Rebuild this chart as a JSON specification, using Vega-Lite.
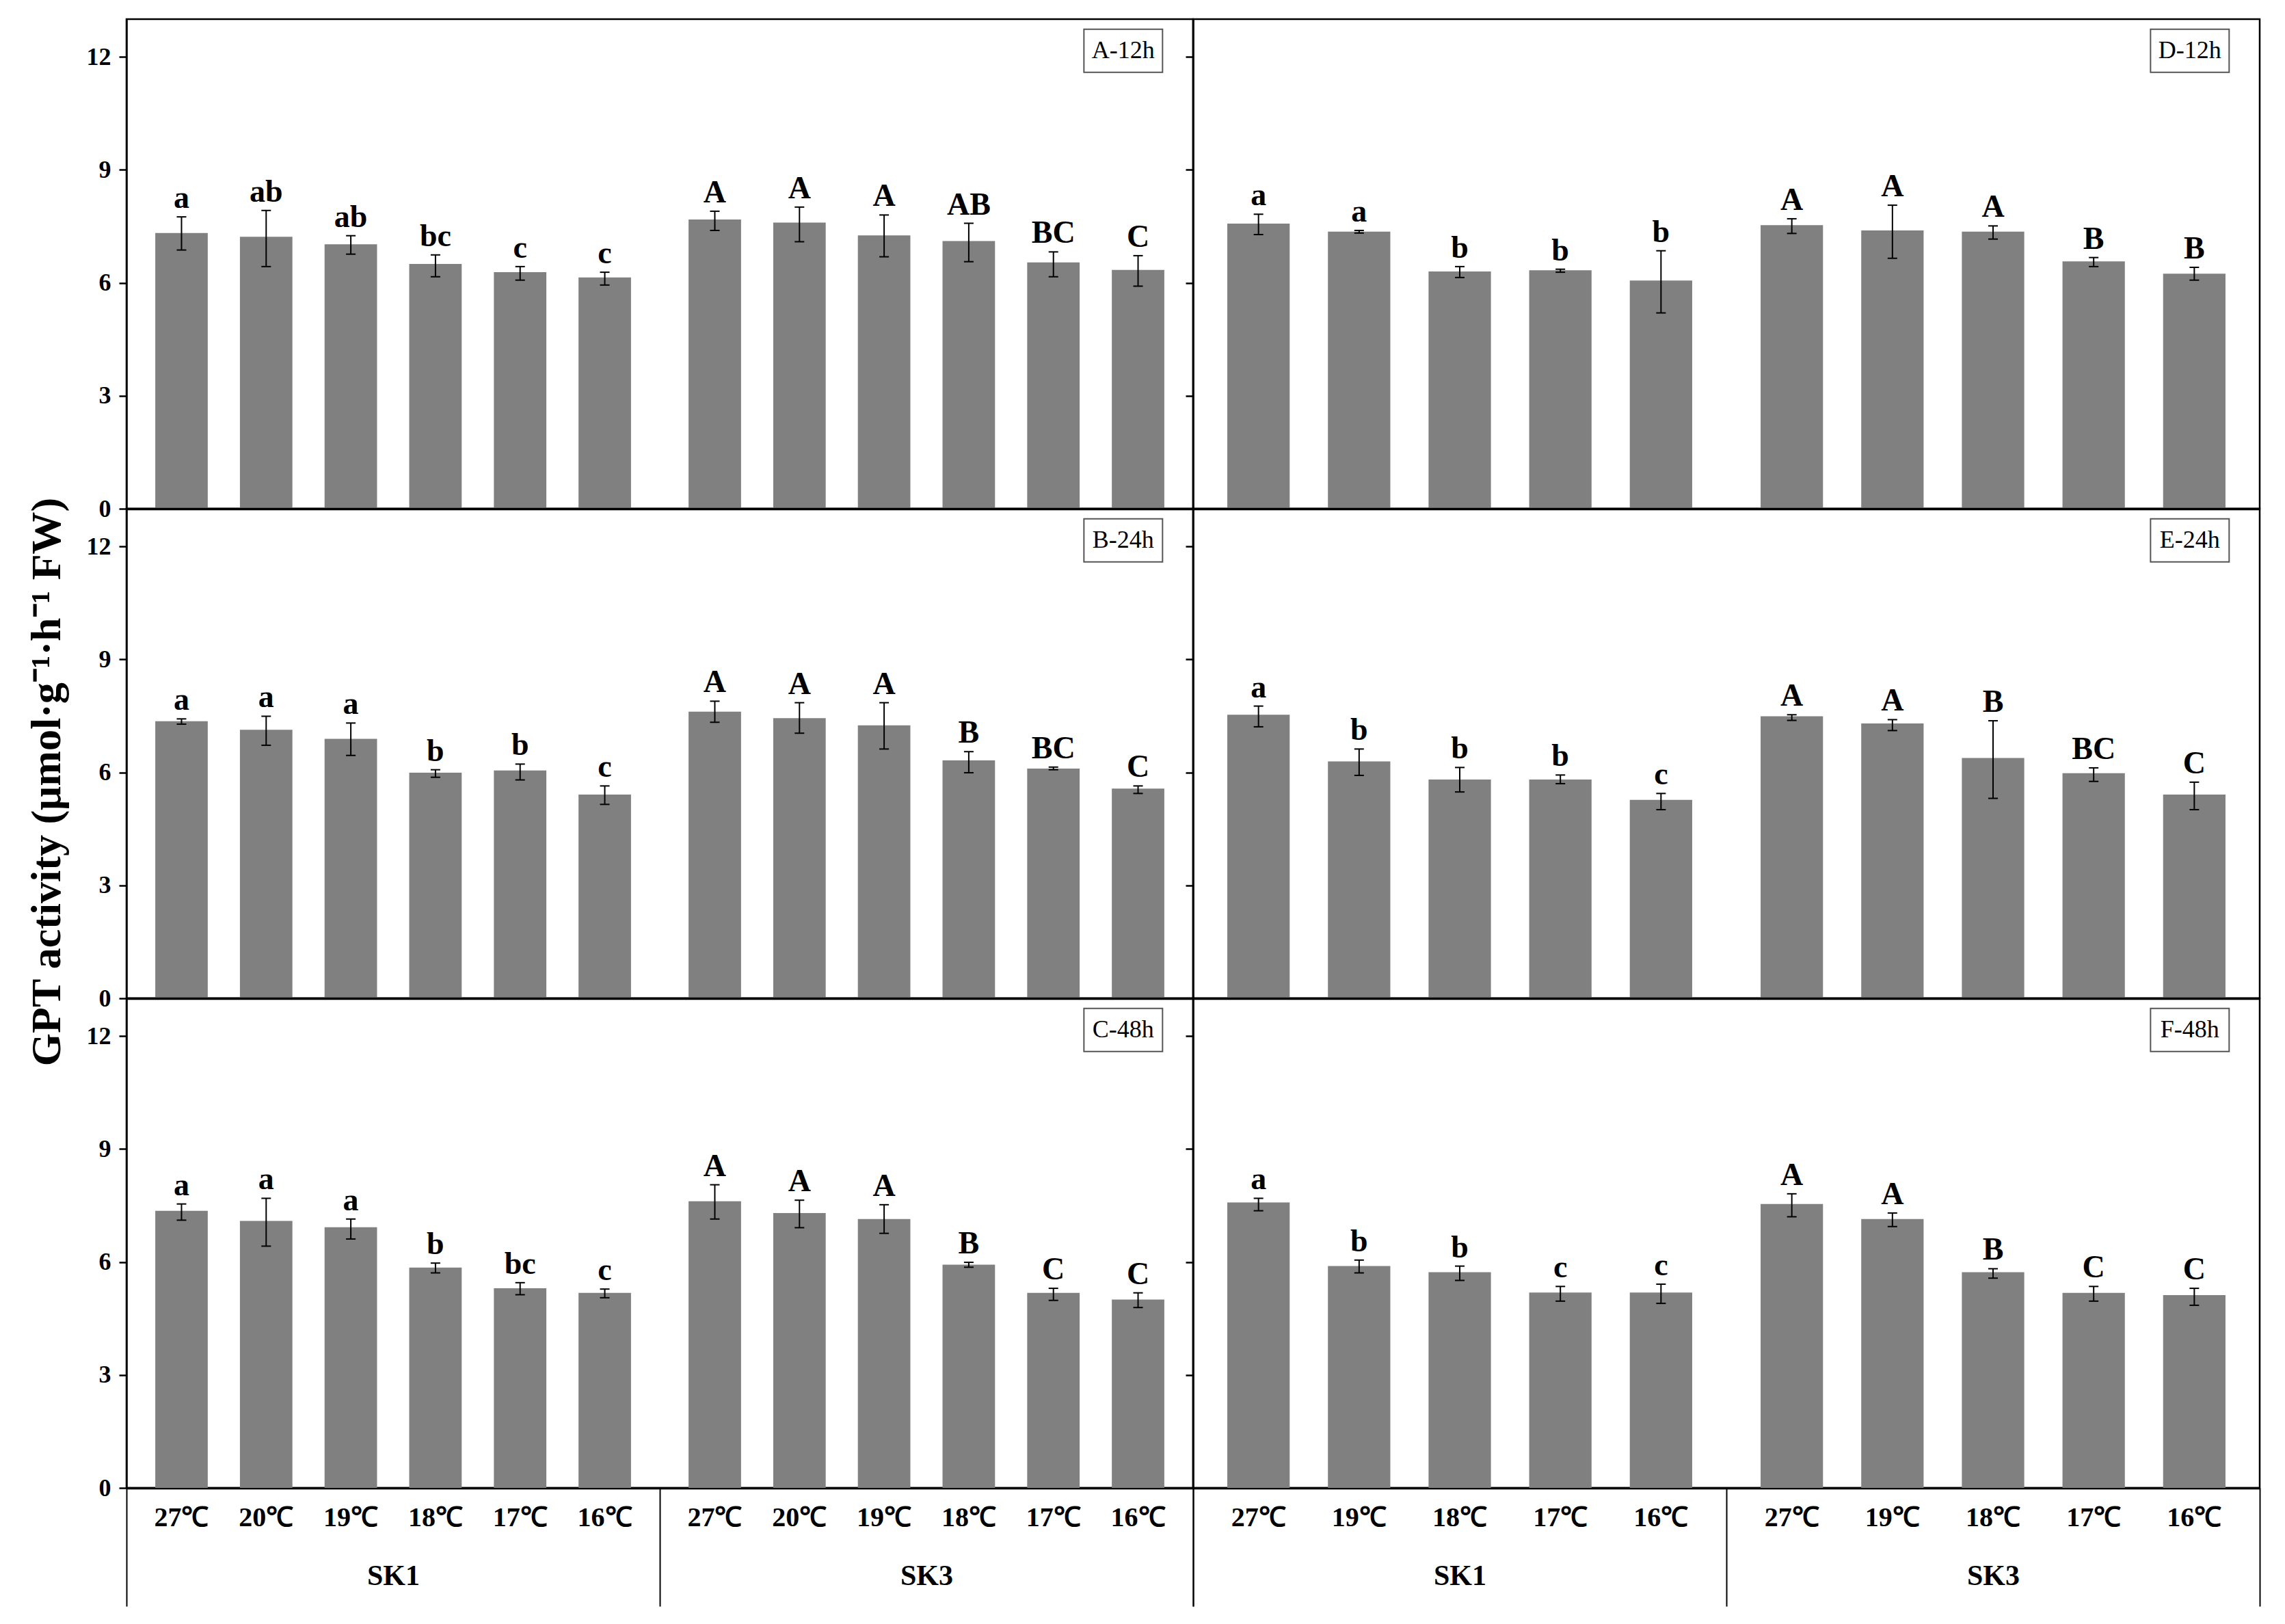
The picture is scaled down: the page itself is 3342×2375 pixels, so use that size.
{
  "$schema": "https://vega.github.io/schema/vega-lite/v6.json",
  "background": "white",
  "padding": {"left": 35, "top": 26, "right": 33, "bottom": 10},
  "config": {
    "font": "Liberation Serif",
    "view": {"stroke": "black", "strokeWidth": 2.5},
    "axis": {"grid": false, "domainColor": "black", "tickColor": "black", "labelColor": "black", "titleColor": "black", "labelFont": "Liberation Serif", "titleFont": "Liberation Serif"}
  },
  "datasets": {
    "gpt": [
      {"panel": "A", "group": "SK1", "temp": "27℃", "value": 7.32, "lo": 6.87, "hi": 7.75, "letter": "a"},
      {"panel": "A", "group": "SK1", "temp": "20℃", "value": 7.22, "lo": 6.43, "hi": 7.92, "letter": "ab"},
      {"panel": "A", "group": "SK1", "temp": "19℃", "value": 7.02, "lo": 6.76, "hi": 7.25, "letter": "ab"},
      {"panel": "A", "group": "SK1", "temp": "18℃", "value": 6.50, "lo": 6.16, "hi": 6.74, "letter": "bc"},
      {"panel": "A", "group": "SK1", "temp": "17℃", "value": 6.28, "lo": 6.07, "hi": 6.43, "letter": "c"},
      {"panel": "A", "group": "SK1", "temp": "16℃", "value": 6.14, "lo": 5.94, "hi": 6.28, "letter": "c"},
      {"panel": "A", "group": "SK3", "temp": "27℃", "value": 7.68, "lo": 7.39, "hi": 7.90, "letter": "A"},
      {"panel": "A", "group": "SK3", "temp": "20℃", "value": 7.60, "lo": 7.09, "hi": 8.01, "letter": "A"},
      {"panel": "A", "group": "SK3", "temp": "19℃", "value": 7.26, "lo": 6.69, "hi": 7.80, "letter": "A"},
      {"panel": "A", "group": "SK3", "temp": "18℃", "value": 7.11, "lo": 6.56, "hi": 7.58, "letter": "AB"},
      {"panel": "A", "group": "SK3", "temp": "17℃", "value": 6.54, "lo": 6.16, "hi": 6.82, "letter": "BC"},
      {"panel": "A", "group": "SK3", "temp": "16℃", "value": 6.34, "lo": 5.91, "hi": 6.72, "letter": "C"},
      {"panel": "D", "group": "SK1", "temp": "27℃", "value": 7.57, "lo": 7.28, "hi": 7.82, "letter": "a"},
      {"panel": "D", "group": "SK1", "temp": "19℃", "value": 7.36, "lo": 7.32, "hi": 7.39, "letter": "a"},
      {"panel": "D", "group": "SK1", "temp": "18℃", "value": 6.30, "lo": 6.14, "hi": 6.43, "letter": "b"},
      {"panel": "D", "group": "SK1", "temp": "17℃", "value": 6.33, "lo": 6.28, "hi": 6.36, "letter": "b"},
      {"panel": "D", "group": "SK1", "temp": "16℃", "value": 6.06, "lo": 5.20, "hi": 6.85, "letter": "b"},
      {"panel": "D", "group": "SK3", "temp": "27℃", "value": 7.53, "lo": 7.31, "hi": 7.70, "letter": "A"},
      {"panel": "D", "group": "SK3", "temp": "19℃", "value": 7.39, "lo": 6.65, "hi": 8.06, "letter": "A"},
      {"panel": "D", "group": "SK3", "temp": "18℃", "value": 7.36, "lo": 7.16, "hi": 7.51, "letter": "A"},
      {"panel": "D", "group": "SK3", "temp": "17℃", "value": 6.57, "lo": 6.43, "hi": 6.67, "letter": "B"},
      {"panel": "D", "group": "SK3", "temp": "16℃", "value": 6.24, "lo": 6.07, "hi": 6.41, "letter": "B"},
      {"panel": "B", "group": "SK1", "temp": "27℃", "value": 7.36, "lo": 7.28, "hi": 7.42, "letter": "a"},
      {"panel": "B", "group": "SK1", "temp": "20℃", "value": 7.13, "lo": 6.72, "hi": 7.49, "letter": "a"},
      {"panel": "B", "group": "SK1", "temp": "19℃", "value": 6.89, "lo": 6.45, "hi": 7.31, "letter": "a"},
      {"panel": "B", "group": "SK1", "temp": "18℃", "value": 5.99, "lo": 5.87, "hi": 6.07, "letter": "b"},
      {"panel": "B", "group": "SK1", "temp": "17℃", "value": 6.05, "lo": 5.80, "hi": 6.22, "letter": "b"},
      {"panel": "B", "group": "SK1", "temp": "16℃", "value": 5.41, "lo": 5.15, "hi": 5.64, "letter": "c"},
      {"panel": "B", "group": "SK3", "temp": "27℃", "value": 7.61, "lo": 7.33, "hi": 7.89, "letter": "A"},
      {"panel": "B", "group": "SK3", "temp": "20℃", "value": 7.44, "lo": 7.04, "hi": 7.85, "letter": "A"},
      {"panel": "B", "group": "SK3", "temp": "19℃", "value": 7.25, "lo": 6.62, "hi": 7.85, "letter": "A"},
      {"panel": "B", "group": "SK3", "temp": "18℃", "value": 6.32, "lo": 5.99, "hi": 6.55, "letter": "B"},
      {"panel": "B", "group": "SK3", "temp": "17℃", "value": 6.10, "lo": 6.07, "hi": 6.14, "letter": "BC"},
      {"panel": "B", "group": "SK3", "temp": "16℃", "value": 5.57, "lo": 5.44, "hi": 5.64, "letter": "C"},
      {"panel": "E", "group": "SK1", "temp": "27℃", "value": 7.53, "lo": 7.21, "hi": 7.76, "letter": "a"},
      {"panel": "E", "group": "SK1", "temp": "19℃", "value": 6.29, "lo": 5.92, "hi": 6.62, "letter": "b"},
      {"panel": "E", "group": "SK1", "temp": "18℃", "value": 5.81, "lo": 5.48, "hi": 6.13, "letter": "b"},
      {"panel": "E", "group": "SK1", "temp": "17℃", "value": 5.81, "lo": 5.70, "hi": 5.93, "letter": "b"},
      {"panel": "E", "group": "SK1", "temp": "16℃", "value": 5.27, "lo": 5.01, "hi": 5.44, "letter": "c"},
      {"panel": "E", "group": "SK3", "temp": "27℃", "value": 7.49, "lo": 7.38, "hi": 7.53, "letter": "A"},
      {"panel": "E", "group": "SK3", "temp": "19℃", "value": 7.30, "lo": 7.11, "hi": 7.40, "letter": "A"},
      {"panel": "E", "group": "SK3", "temp": "18℃", "value": 6.38, "lo": 5.31, "hi": 7.37, "letter": "B"},
      {"panel": "E", "group": "SK3", "temp": "17℃", "value": 5.98, "lo": 5.76, "hi": 6.12, "letter": "BC"},
      {"panel": "E", "group": "SK3", "temp": "16℃", "value": 5.41, "lo": 5.01, "hi": 5.74, "letter": "C"},
      {"panel": "C", "group": "SK1", "temp": "27℃", "value": 7.36, "lo": 7.11, "hi": 7.54, "letter": "a"},
      {"panel": "C", "group": "SK1", "temp": "20℃", "value": 7.09, "lo": 6.42, "hi": 7.69, "letter": "a"},
      {"panel": "C", "group": "SK1", "temp": "19℃", "value": 6.92, "lo": 6.61, "hi": 7.14, "letter": "a"},
      {"panel": "C", "group": "SK1", "temp": "18℃", "value": 5.85, "lo": 5.71, "hi": 5.97, "letter": "b"},
      {"panel": "C", "group": "SK1", "temp": "17℃", "value": 5.30, "lo": 5.13, "hi": 5.45, "letter": "bc"},
      {"panel": "C", "group": "SK1", "temp": "16℃", "value": 5.18, "lo": 5.05, "hi": 5.28, "letter": "c"},
      {"panel": "C", "group": "SK3", "temp": "27℃", "value": 7.61, "lo": 7.14, "hi": 8.05, "letter": "A"},
      {"panel": "C", "group": "SK3", "temp": "20℃", "value": 7.30, "lo": 6.91, "hi": 7.64, "letter": "A"},
      {"panel": "C", "group": "SK3", "temp": "19℃", "value": 7.14, "lo": 6.76, "hi": 7.52, "letter": "A"},
      {"panel": "C", "group": "SK3", "temp": "18℃", "value": 5.93, "lo": 5.86, "hi": 5.99, "letter": "B"},
      {"panel": "C", "group": "SK3", "temp": "17℃", "value": 5.18, "lo": 4.98, "hi": 5.30, "letter": "C"},
      {"panel": "C", "group": "SK3", "temp": "16℃", "value": 5.00, "lo": 4.79, "hi": 5.18, "letter": "C"},
      {"panel": "F", "group": "SK1", "temp": "27℃", "value": 7.58, "lo": 7.36, "hi": 7.69, "letter": "a"},
      {"panel": "F", "group": "SK1", "temp": "19℃", "value": 5.89, "lo": 5.71, "hi": 6.05, "letter": "b"},
      {"panel": "F", "group": "SK1", "temp": "18℃", "value": 5.73, "lo": 5.51, "hi": 5.89, "letter": "b"},
      {"panel": "F", "group": "SK1", "temp": "17℃", "value": 5.19, "lo": 4.96, "hi": 5.35, "letter": "c"},
      {"panel": "F", "group": "SK1", "temp": "16℃", "value": 5.19, "lo": 4.90, "hi": 5.41, "letter": "c"},
      {"panel": "F", "group": "SK3", "temp": "27℃", "value": 7.54, "lo": 7.20, "hi": 7.81, "letter": "A"},
      {"panel": "F", "group": "SK3", "temp": "19℃", "value": 7.14, "lo": 6.94, "hi": 7.30, "letter": "A"},
      {"panel": "F", "group": "SK3", "temp": "18℃", "value": 5.73, "lo": 5.57, "hi": 5.82, "letter": "B"},
      {"panel": "F", "group": "SK3", "temp": "17℃", "value": 5.18, "lo": 4.96, "hi": 5.35, "letter": "C"},
      {"panel": "F", "group": "SK3", "temp": "16℃", "value": 5.12, "lo": 4.85, "hi": 5.30, "letter": "C"}
    ]
  },
  "columns": 2,
  "spacing": 0,
  "bounds": "flush",
  "resolve": {"scale": {"x": "independent", "xOffset": "independent", "y": "independent"}},
  "concat": [
    {
      "width": 1560, "height": 716,
      "data": {"name": "gpt"},
      "transform": [{"filter": "datum.panel === 'A'"}],
      "encoding": {"x": {"field": "group", "type": "nominal", "scale": {"domain": ["SK1", "SK3"], "paddingInner": 0, "paddingOuter": 0}, "axis": {"title": null, "labels": false, "ticks": false, "domainWidth": 3.5}}},
      "layer": [
        {"mark": {"type": "bar", "color": "#808080"}, "encoding": {"xOffset": {"field": "temp", "type": "nominal", "scale": {"domain": ["27℃", "20℃", "19℃", "18℃", "17℃", "16℃"], "paddingInner": 0.38, "paddingOuter": 0.34}}, "y": {"field": "value", "type": "quantitative", "scale": {"domain": [0, 13], "nice": false}, "axis": {"title": null, "values": [0, 3, 6, 9, 12], "labelFontSize": 36, "labelFontWeight": "bold", "labelPadding": 12, "tickSize": 11, "tickWidth": 2.5, "domainWidth": 2.5}}}},
        {"mark": {"type": "rule", "color": "black", "strokeWidth": 2}, "encoding": {"xOffset": {"field": "temp", "type": "nominal"}, "y": {"field": "lo", "type": "quantitative"}, "y2": {"field": "hi"}}},
        {"mark": {"type": "tick", "color": "black", "thickness": 2, "size": 14, "opacity": 1}, "encoding": {"xOffset": {"field": "temp", "type": "nominal"}, "y": {"field": "hi", "type": "quantitative"}}},
        {"mark": {"type": "tick", "color": "black", "thickness": 2, "size": 14, "opacity": 1}, "encoding": {"xOffset": {"field": "temp", "type": "nominal"}, "y": {"field": "lo", "type": "quantitative"}}},
        {"mark": {"type": "text", "fontSize": 46, "fontWeight": "bold", "baseline": "alphabetic", "dy": -13, "color": "black"}, "encoding": {"xOffset": {"field": "temp", "type": "nominal"}, "y": {"field": "hi", "type": "quantitative"}, "text": {"field": "letter"}}},
        {"data": {"values": [{"label": "A-12h"}]}, "mark": {"type": "point", "shape": "M-1.825,-1H1.825V1H-1.825Z", "size": 3969, "filled": true, "fill": "white", "stroke": "#555555", "strokeWidth": 2, "opacity": 1}, "encoding": {"x": {"datum": "SK3", "bandPosition": 0.869}, "y": {"datum": 12.16}}},
        {"data": {"values": [{"label": "A-12h"}]}, "mark": {"type": "text", "fontSize": 36, "baseline": "middle", "color": "black"}, "encoding": {"x": {"datum": "SK3", "bandPosition": 0.869}, "y": {"datum": 12.16}, "text": {"field": "label"}}}
      ]
    },
    {
      "width": 1560, "height": 716,
      "data": {"name": "gpt"},
      "transform": [{"filter": "datum.panel === 'D'"}],
      "encoding": {"x": {"field": "group", "type": "nominal", "scale": {"domain": ["SK1", "SK3"], "paddingInner": 0, "paddingOuter": 0}, "axis": {"title": null, "labels": false, "ticks": false, "domainWidth": 3.5}}},
      "layer": [
        {"mark": {"type": "bar", "color": "#808080"}, "encoding": {"xOffset": {"field": "temp", "type": "nominal", "scale": {"domain": ["27℃", "19℃", "18℃", "17℃", "16℃"], "paddingInner": 0.38, "paddingOuter": 0.34}}, "y": {"field": "value", "type": "quantitative", "scale": {"domain": [0, 13], "nice": false}, "axis": {"title": null, "values": [0, 3, 6, 9, 12], "labels": false, "tickSize": 11, "tickWidth": 2.5, "domainWidth": 2.5}}}},
        {"mark": {"type": "rule", "color": "black", "strokeWidth": 2}, "encoding": {"xOffset": {"field": "temp", "type": "nominal"}, "y": {"field": "lo", "type": "quantitative"}, "y2": {"field": "hi"}}},
        {"mark": {"type": "tick", "color": "black", "thickness": 2, "size": 14, "opacity": 1}, "encoding": {"xOffset": {"field": "temp", "type": "nominal"}, "y": {"field": "hi", "type": "quantitative"}}},
        {"mark": {"type": "tick", "color": "black", "thickness": 2, "size": 14, "opacity": 1}, "encoding": {"xOffset": {"field": "temp", "type": "nominal"}, "y": {"field": "lo", "type": "quantitative"}}},
        {"mark": {"type": "text", "fontSize": 46, "fontWeight": "bold", "baseline": "alphabetic", "dy": -13, "color": "black"}, "encoding": {"xOffset": {"field": "temp", "type": "nominal"}, "y": {"field": "hi", "type": "quantitative"}, "text": {"field": "letter"}}},
        {"data": {"values": [{"label": "D-12h"}]}, "mark": {"type": "point", "shape": "M-1.825,-1H1.825V1H-1.825Z", "size": 3969, "filled": true, "fill": "white", "stroke": "#555555", "strokeWidth": 2, "opacity": 1}, "encoding": {"x": {"datum": "SK3", "bandPosition": 0.869}, "y": {"datum": 12.16}}},
        {"data": {"values": [{"label": "D-12h"}]}, "mark": {"type": "text", "fontSize": 36, "baseline": "middle", "color": "black"}, "encoding": {"x": {"datum": "SK3", "bandPosition": 0.869}, "y": {"datum": 12.16}, "text": {"field": "label"}}}
      ]
    },
    {
      "width": 1560, "height": 716,
      "data": {"name": "gpt"},
      "transform": [{"filter": "datum.panel === 'B'"}],
      "encoding": {"x": {"field": "group", "type": "nominal", "scale": {"domain": ["SK1", "SK3"], "paddingInner": 0, "paddingOuter": 0}, "axis": {"title": null, "labels": false, "ticks": false, "domainWidth": 3.5}}},
      "layer": [
        {"mark": {"type": "bar", "color": "#808080"}, "encoding": {"xOffset": {"field": "temp", "type": "nominal", "scale": {"domain": ["27℃", "20℃", "19℃", "18℃", "17℃", "16℃"], "paddingInner": 0.38, "paddingOuter": 0.34}}, "y": {"field": "value", "type": "quantitative", "scale": {"domain": [0, 13], "nice": false}, "axis": {"title": "GPT activity (μmol·g⁻¹·h⁻¹ FW)", "titleFontSize": 62, "titleFontWeight": "bold", "titlePadding": 26, "titleY": 399, "values": [0, 3, 6, 9, 12], "labelFontSize": 36, "labelFontWeight": "bold", "labelPadding": 12, "tickSize": 11, "tickWidth": 2.5, "domainWidth": 2.5}}}},
        {"mark": {"type": "rule", "color": "black", "strokeWidth": 2}, "encoding": {"xOffset": {"field": "temp", "type": "nominal"}, "y": {"field": "lo", "type": "quantitative"}, "y2": {"field": "hi"}}},
        {"mark": {"type": "tick", "color": "black", "thickness": 2, "size": 14, "opacity": 1}, "encoding": {"xOffset": {"field": "temp", "type": "nominal"}, "y": {"field": "hi", "type": "quantitative"}}},
        {"mark": {"type": "tick", "color": "black", "thickness": 2, "size": 14, "opacity": 1}, "encoding": {"xOffset": {"field": "temp", "type": "nominal"}, "y": {"field": "lo", "type": "quantitative"}}},
        {"mark": {"type": "text", "fontSize": 46, "fontWeight": "bold", "baseline": "alphabetic", "dy": -13, "color": "black"}, "encoding": {"xOffset": {"field": "temp", "type": "nominal"}, "y": {"field": "hi", "type": "quantitative"}, "text": {"field": "letter"}}},
        {"data": {"values": [{"label": "B-24h"}]}, "mark": {"type": "point", "shape": "M-1.825,-1H1.825V1H-1.825Z", "size": 3969, "filled": true, "fill": "white", "stroke": "#555555", "strokeWidth": 2, "opacity": 1}, "encoding": {"x": {"datum": "SK3", "bandPosition": 0.869}, "y": {"datum": 12.16}}},
        {"data": {"values": [{"label": "B-24h"}]}, "mark": {"type": "text", "fontSize": 36, "baseline": "middle", "color": "black"}, "encoding": {"x": {"datum": "SK3", "bandPosition": 0.869}, "y": {"datum": 12.16}, "text": {"field": "label"}}}
      ]
    },
    {
      "width": 1560, "height": 716,
      "data": {"name": "gpt"},
      "transform": [{"filter": "datum.panel === 'E'"}],
      "encoding": {"x": {"field": "group", "type": "nominal", "scale": {"domain": ["SK1", "SK3"], "paddingInner": 0, "paddingOuter": 0}, "axis": {"title": null, "labels": false, "ticks": false, "domainWidth": 3.5}}},
      "layer": [
        {"mark": {"type": "bar", "color": "#808080"}, "encoding": {"xOffset": {"field": "temp", "type": "nominal", "scale": {"domain": ["27℃", "19℃", "18℃", "17℃", "16℃"], "paddingInner": 0.38, "paddingOuter": 0.34}}, "y": {"field": "value", "type": "quantitative", "scale": {"domain": [0, 13], "nice": false}, "axis": {"title": null, "values": [0, 3, 6, 9, 12], "labels": false, "tickSize": 11, "tickWidth": 2.5, "domainWidth": 2.5}}}},
        {"mark": {"type": "rule", "color": "black", "strokeWidth": 2}, "encoding": {"xOffset": {"field": "temp", "type": "nominal"}, "y": {"field": "lo", "type": "quantitative"}, "y2": {"field": "hi"}}},
        {"mark": {"type": "tick", "color": "black", "thickness": 2, "size": 14, "opacity": 1}, "encoding": {"xOffset": {"field": "temp", "type": "nominal"}, "y": {"field": "hi", "type": "quantitative"}}},
        {"mark": {"type": "tick", "color": "black", "thickness": 2, "size": 14, "opacity": 1}, "encoding": {"xOffset": {"field": "temp", "type": "nominal"}, "y": {"field": "lo", "type": "quantitative"}}},
        {"mark": {"type": "text", "fontSize": 46, "fontWeight": "bold", "baseline": "alphabetic", "dy": -13, "color": "black"}, "encoding": {"xOffset": {"field": "temp", "type": "nominal"}, "y": {"field": "hi", "type": "quantitative"}, "text": {"field": "letter"}}},
        {"data": {"values": [{"label": "E-24h"}]}, "mark": {"type": "point", "shape": "M-1.825,-1H1.825V1H-1.825Z", "size": 3969, "filled": true, "fill": "white", "stroke": "#555555", "strokeWidth": 2, "opacity": 1}, "encoding": {"x": {"datum": "SK3", "bandPosition": 0.869}, "y": {"datum": 12.16}}},
        {"data": {"values": [{"label": "E-24h"}]}, "mark": {"type": "text", "fontSize": 36, "baseline": "middle", "color": "black"}, "encoding": {"x": {"datum": "SK3", "bandPosition": 0.869}, "y": {"datum": 12.16}, "text": {"field": "label"}}}
      ]
    },
    {
      "width": 1560, "height": 716,
      "data": {"name": "gpt"},
      "transform": [{"filter": "datum.panel === 'C'"}],
      "encoding": {"x": {"field": "group", "type": "nominal", "scale": {"domain": ["SK1", "SK3"], "paddingInner": 0, "paddingOuter": 0}, "axis": {"title": null, "labelAngle": 0, "labelFontSize": 42, "labelFontWeight": "bold", "labelBaseline": "middle", "labelPadding": -45, "tickBand": "extent", "tickSize": 173, "tickWidth": 2, "domainWidth": 3.5}}},
      "layer": [
        {"mark": {"type": "bar", "color": "#808080"}, "encoding": {"xOffset": {"field": "temp", "type": "nominal", "scale": {"domain": ["27℃", "20℃", "19℃", "18℃", "17℃", "16℃"], "paddingInner": 0.38, "paddingOuter": 0.34}}, "y": {"field": "value", "type": "quantitative", "scale": {"domain": [0, 13], "nice": false}, "axis": {"title": null, "values": [0, 3, 6, 9, 12], "labelFontSize": 36, "labelFontWeight": "bold", "labelPadding": 12, "tickSize": 11, "tickWidth": 2.5, "domainWidth": 2.5}}}},
        {"mark": {"type": "rule", "color": "black", "strokeWidth": 2}, "encoding": {"xOffset": {"field": "temp", "type": "nominal"}, "y": {"field": "lo", "type": "quantitative"}, "y2": {"field": "hi"}}},
        {"mark": {"type": "tick", "color": "black", "thickness": 2, "size": 14, "opacity": 1}, "encoding": {"xOffset": {"field": "temp", "type": "nominal"}, "y": {"field": "hi", "type": "quantitative"}}},
        {"mark": {"type": "tick", "color": "black", "thickness": 2, "size": 14, "opacity": 1}, "encoding": {"xOffset": {"field": "temp", "type": "nominal"}, "y": {"field": "lo", "type": "quantitative"}}},
        {"mark": {"type": "text", "fontSize": 46, "fontWeight": "bold", "baseline": "alphabetic", "dy": -13, "color": "black"}, "encoding": {"xOffset": {"field": "temp", "type": "nominal"}, "y": {"field": "hi", "type": "quantitative"}, "text": {"field": "letter"}}},
        {"mark": {"type": "text", "fontSize": 40, "fontWeight": "bold", "baseline": "middle", "dy": 44, "color": "black"}, "encoding": {"xOffset": {"field": "temp", "type": "nominal"}, "y": {"datum": 0}, "text": {"field": "temp"}}},
        {"data": {"values": [{"label": "C-48h"}]}, "mark": {"type": "point", "shape": "M-1.825,-1H1.825V1H-1.825Z", "size": 3969, "filled": true, "fill": "white", "stroke": "#555555", "strokeWidth": 2, "opacity": 1}, "encoding": {"x": {"datum": "SK3", "bandPosition": 0.869}, "y": {"datum": 12.16}}},
        {"data": {"values": [{"label": "C-48h"}]}, "mark": {"type": "text", "fontSize": 36, "baseline": "middle", "color": "black"}, "encoding": {"x": {"datum": "SK3", "bandPosition": 0.869}, "y": {"datum": 12.16}, "text": {"field": "label"}}}
      ]
    },
    {
      "width": 1560, "height": 716,
      "data": {"name": "gpt"},
      "transform": [{"filter": "datum.panel === 'F'"}],
      "encoding": {"x": {"field": "group", "type": "nominal", "scale": {"domain": ["SK1", "SK3"], "paddingInner": 0, "paddingOuter": 0}, "axis": {"title": null, "labelAngle": 0, "labelFontSize": 42, "labelFontWeight": "bold", "labelBaseline": "middle", "labelPadding": -45, "tickBand": "extent", "tickSize": 173, "tickWidth": 2, "domainWidth": 3.5}}},
      "layer": [
        {"mark": {"type": "bar", "color": "#808080"}, "encoding": {"xOffset": {"field": "temp", "type": "nominal", "scale": {"domain": ["27℃", "19℃", "18℃", "17℃", "16℃"], "paddingInner": 0.38, "paddingOuter": 0.34}}, "y": {"field": "value", "type": "quantitative", "scale": {"domain": [0, 13], "nice": false}, "axis": {"title": null, "values": [0, 3, 6, 9, 12], "labels": false, "tickSize": 11, "tickWidth": 2.5, "domainWidth": 2.5}}}},
        {"mark": {"type": "rule", "color": "black", "strokeWidth": 2}, "encoding": {"xOffset": {"field": "temp", "type": "nominal"}, "y": {"field": "lo", "type": "quantitative"}, "y2": {"field": "hi"}}},
        {"mark": {"type": "tick", "color": "black", "thickness": 2, "size": 14, "opacity": 1}, "encoding": {"xOffset": {"field": "temp", "type": "nominal"}, "y": {"field": "hi", "type": "quantitative"}}},
        {"mark": {"type": "tick", "color": "black", "thickness": 2, "size": 14, "opacity": 1}, "encoding": {"xOffset": {"field": "temp", "type": "nominal"}, "y": {"field": "lo", "type": "quantitative"}}},
        {"mark": {"type": "text", "fontSize": 46, "fontWeight": "bold", "baseline": "alphabetic", "dy": -13, "color": "black"}, "encoding": {"xOffset": {"field": "temp", "type": "nominal"}, "y": {"field": "hi", "type": "quantitative"}, "text": {"field": "letter"}}},
        {"mark": {"type": "text", "fontSize": 40, "fontWeight": "bold", "baseline": "middle", "dy": 44, "color": "black"}, "encoding": {"xOffset": {"field": "temp", "type": "nominal"}, "y": {"datum": 0}, "text": {"field": "temp"}}},
        {"data": {"values": [{"label": "F-48h"}]}, "mark": {"type": "point", "shape": "M-1.825,-1H1.825V1H-1.825Z", "size": 3969, "filled": true, "fill": "white", "stroke": "#555555", "strokeWidth": 2, "opacity": 1}, "encoding": {"x": {"datum": "SK3", "bandPosition": 0.869}, "y": {"datum": 12.16}}},
        {"data": {"values": [{"label": "F-48h"}]}, "mark": {"type": "text", "fontSize": 36, "baseline": "middle", "color": "black"}, "encoding": {"x": {"datum": "SK3", "bandPosition": 0.869}, "y": {"datum": 12.16}, "text": {"field": "label"}}}
      ]
    }
  ]
}
